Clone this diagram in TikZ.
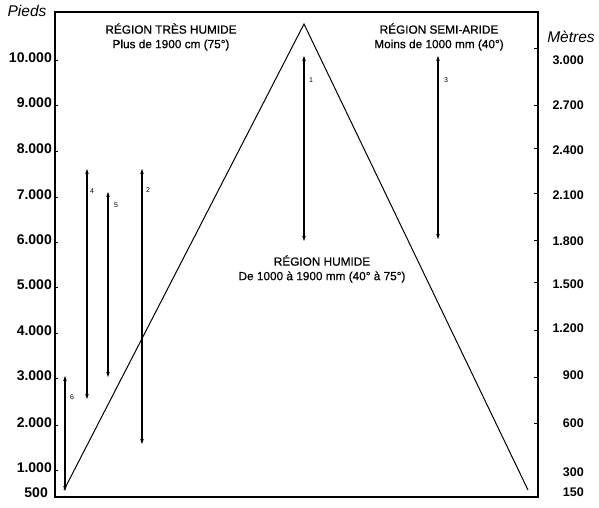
\documentclass[tikz,border=0pt]{standalone}
\usepackage{fontspec}
\setmainfont{Liberation Sans}
\newfontfamily\medfont[FakeBold=0.7]{Liberation Sans}
\usetikzlibrary{arrows.meta}
\begin{document}
\begin{tikzpicture}[x=1pt,y=-1pt,
  frame/.style={line width=1.6pt},
  tickmark/.style={line width=1pt},
  mount/.style={line width=1pt},
  spanarrow/.style={line width=1.6pt,{Stealth[length=5pt,width=3.5pt]}-{Stealth[length=5pt,width=3.5pt]}},
  ftlab/.style={anchor=east,font=\bfseries\fontsize{14}{15}\selectfont,inner sep=0pt},
  mlab/.style={anchor=east,font=\bfseries\fontsize{12.5}{13}\selectfont,inner sep=0pt},
  unitlab/.style={font=\itshape\fontsize{15.5}{16}\selectfont,inner sep=0pt},
  regtxt/.style={font=\medfont\fontsize{11.8}{14.5}\selectfont,align=center,inner sep=0pt},
  numlab/.style={font=\fontsize{7}{8}\selectfont,inner sep=0pt}]
\useasboundingbox (0,0) rectangle (599,507);
% frame
\coordinate (tl) at (55,12);
\coordinate (tr) at (538,12);
\coordinate (bl) at (55,497);
\coordinate (br) at (538,497);
\draw[frame] (tl) -- (tr) -- (br) -- (bl) -- cycle;
% left ticks and feet labels
\foreach \y/\t in {60/10.000,105/9.000,151/8.000,197/7.000,242/6.000,287/5.000,333/4.000,378/3.000,425/2.000,470/1.000}{
  \draw[tickmark] (55,\y) -- (58,\y);
  \node[ftlab] at (52,\y-2) {\t};
}
\node[ftlab] (f500) at (48,493) {500};
% right ticks and metre labels
\foreach \y in {48,105,148,193,240,282,330,377,423}{
  \draw[tickmark] (534,\y) -- (538,\y);
}
\foreach \y/\t in {60/3.000,105/2.700,150/2.400,195/2.100,241/1.800,284/1.500,328/1.200,375/900,423/600,472/300,492/150}{
  \node[mlab] at (584,\y) {\t};
}
\node[unitlab] (pieds) at (27,11) {Pieds};
\node[unitlab] (metres) at (571,37) {Mètres};
% mountain
\coordinate (mL) at (64,490);
\coordinate (mP) at (304,24);
\coordinate (mR) at (528,490);
\draw[mount] (mL) -- (mP) -- (mR);
% region texts
\node[regtxt] (rth) at (171,37) {RÉGION TRÈS HUMIDE\\Plus de 1900 cm (75°)};
\node[regtxt] (rsa) at (439,37) {RÉGION SEMI-ARIDE\\Moins de 1000 mm (40°)};
\node[regtxt] (rh) at (322,269) {RÉGION HUMIDE\\De 1000 à 1900 mm (40° à 75°)};
% range arrows
\coordinate (a1t) at (304,56); \coordinate (a1b) at (304,241);
\coordinate (a3t) at (438,56); \coordinate (a3b) at (438,239);
\coordinate (a4t) at (87,169); \coordinate (a4b) at (87,399);
\coordinate (a5t) at (108,192); \coordinate (a5b) at (108,377);
\coordinate (a2t) at (142,169); \coordinate (a2b) at (142,444);
\coordinate (a6t) at (65,376); \coordinate (a6b) at (65,491);
\draw[spanarrow] (a1t) -- (a1b);
\draw[spanarrow] (a3t) -- (a3b);
\draw[spanarrow] (a4t) -- (a4b);
\draw[spanarrow] (a5t) -- (a5b);
\draw[spanarrow] (a2t) -- (a2b);
\draw[spanarrow] (a6t) -- (a6b);
\node[numlab] (n1) at (311,80) {1};
\node[numlab] (n3) at (446,80) {3};
\node[numlab] (n4) at (92,191) {4};
\node[numlab] (n5) at (116,205) {5};
\node[numlab] (n2) at (148,190) {2};
\node[numlab] (n6) at (72,397) {6};
\end{tikzpicture}
\end{document}
